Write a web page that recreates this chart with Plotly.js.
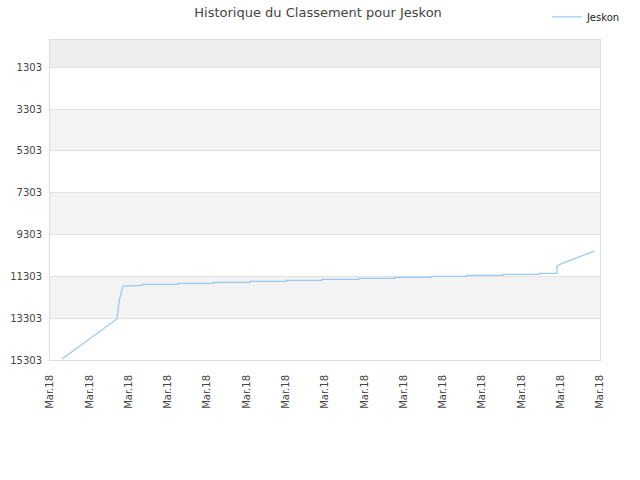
<!DOCTYPE html>
<html>
<head>
<meta charset="utf-8">
<script src="https://cdn.plot.ly/plotly-3.0.1.min.js"></script>
<style>
  html, body { margin: 0; padding: 0; background: #fff; }
  #chart { width: 640px; height: 480px; }
</style>
</head>
<body>
<div id="chart"></div>
<script>
"use strict";
// position along the time axis (1 unit = 1 tick step) and rank
var dayPos = [0.305, 1.705, 1.731, 1.782, 1.858,
    2.342, 2.342, 3.258, 3.258, 4.175, 4.175, 5.091, 5.091, 6.007, 6.007,
    6.924, 6.924, 7.865, 7.865, 8.782, 8.782, 9.698, 9.698, 10.615, 10.615,
    11.531, 11.531, 12.447, 12.447, 12.905, 12.905, 13.058, 13.847];
var ranks = [15260, 13344, 12914, 12293, 11767,
    11733, 11686, 11686, 11638, 11638, 11590, 11590, 11542, 11542, 11494,
    11494, 11447, 11447, 11399, 11399, 11351, 11351, 11303, 11303, 11256,
    11256, 11208, 11208, 11160, 11160, 10800, 10668, 10095];
var tickPos = [0, 1, 2, 3, 4, 5, 6, 7, 8, 9, 10, 11, 12, 13, 14];
var tickText = tickPos.map(function () { return "Mar.18"; });
var rankTicks = [1303, 3303, 5303, 7303, 9303, 11303, 13303, 15303];
var rankText = rankTicks.map(function (r) { return String(r); });

var bands = [];
bands.push({type: "rect", xref: "paper", yref: "y", x0: 0, x1: 1, y0: 1, y1: 1303,
    fillcolor: "#eeeeee", line: {width: 0}, layer: "below"});
for (var i = 0; i < rankTicks.length - 1; i++) {
    if (i % 2 == 1) {
        bands.push({type: "rect", xref: "paper", yref: "y", x0: 0, x1: 1,
            y0: rankTicks[i], y1: rankTicks[i + 1],
            fillcolor: "#f3f3f3", line: {width: 0}, layer: "below"});
    }
}

var trace = {
    x: dayPos,
    y: ranks,
    type: "scatter",
    mode: "lines",
    name: "Jeskon",
    line: {color: "#99c8f2", width: 1.2}
};

var layout = {
    width: 640,
    height: 480,
    margin: {l: 50, r: 40, t: 40, b: 120, autoexpand: false},
    paper_bgcolor: "#ffffff",
    plot_bgcolor: "#ffffff",
    font: {family: "DejaVu Sans, sans-serif", size: 10, color: "#444444"},
    title: {text: "Historique du Classement pour Jeskon", x: 0.497, xanchor: "center",
        y: 0.975, yanchor: "middle", font: {size: 13, color: "#444444"}},
    showlegend: true,
    legend: {xref: "container", yref: "container", x: 0.978, xanchor: "right",
        y: 0.995, yanchor: "top",
        font: {size: 10, color: "#222222"}, bgcolor: "rgba(0,0,0,0)"},
    xaxis: {
        range: [0, 14],
        tickmode: "array",
        tickvals: tickPos,
        ticktext: tickText,
        tickangle: -90,
        automargin: false,
        showgrid: false,
        zeroline: false,
        showline: true,
        linecolor: "#dddddd",
        mirror: true,
        ticks: "outside",
        ticklen: 10,
        tickcolor: "rgba(0,0,0,0)",
        tickfont: {size: 10, color: "#444444"}
    },
    yaxis: {
        range: [15303, 1],
        tickmode: "array",
        tickvals: rankTicks,
        ticktext: rankText,
        automargin: false,
        showgrid: true,
        gridcolor: "#e2e2e2",
        zeroline: false,
        showline: true,
        linecolor: "#dddddd",
        mirror: true,
        ticks: "outside",
        ticklen: 5,
        tickcolor: "rgba(0,0,0,0)",
        tickfont: {size: 10, color: "#444444"}
    },
    shapes: bands
};

Plotly.newPlot("chart", [trace], layout, {displayModeBar: false, staticPlot: true});
</script>
</body>
</html>
